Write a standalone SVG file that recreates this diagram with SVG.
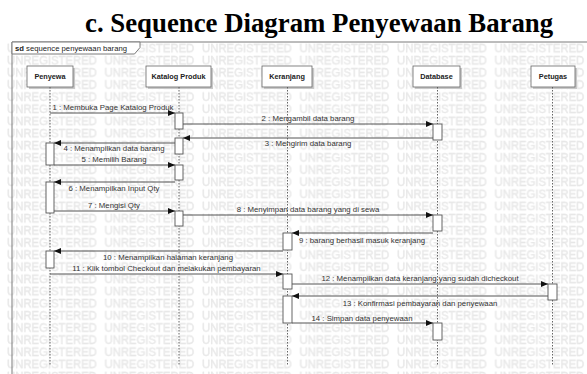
<svg xmlns="http://www.w3.org/2000/svg" width="587" height="374" viewBox="0 0 587 374">
<defs>
<style>
.title{font-family:"Liberation Serif","Times New Roman",serif;font-weight:bold;font-size:26.8px;fill:#000}
.wm{font-family:"Liberation Sans",Arial,sans-serif;font-size:11.3px;fill:#ececec;stroke:#e2e2e2;stroke-width:0.3}
.frame{fill:none;stroke:#7a7a7a;stroke-width:1}
.tab{fill:#fff;stroke:#7a7a7a;stroke-width:1}
.sd{font-family:"Liberation Sans",Arial,sans-serif;font-size:7.7px;fill:#222}
.head{fill:#fff;stroke:#666;stroke-width:0.8}
.shadow{fill:#c8c8c8}
.hname{font-family:"Liberation Sans",Arial,sans-serif;font-size:7.3px;font-weight:bold;fill:#222;text-anchor:middle}
.life{stroke:#555;stroke-width:0.9;stroke-dasharray:1.5 1.5;fill:none}
.act{fill:#fff;stroke:#555;stroke-width:0.9}
.msg{stroke:#555;stroke-width:1;fill:none;marker-end:url(#ah)}
.lbl{font-family:"Liberation Sans",Arial,sans-serif;font-size:7.8px;fill:#333;text-anchor:middle}
</style>
<marker id="ah" markerUnits="userSpaceOnUse" markerWidth="8" markerHeight="7" refX="7" refY="3" orient="auto">
<path d="M0,0 L7,3 L0,6 Z" fill="#111"/>
</marker>
<pattern id="wmp" patternUnits="userSpaceOnUse" x="7" y="42" width="97.5" height="12.15">
<text class="wm" x="0" y="10.3">UNREGISTERED</text>
</pattern>
</defs>
<rect width="587" height="374" fill="#fff"/>
<text class="title" x="85" y="32">c. Sequence Diagram Penyewaan Barang</text>
<rect x="0" y="42" width="587" height="332" fill="url(#wmp)"/>
<g id="frame">
<path class="frame" d="M12,374 V42 H587"/>
<path class="tab" d="M12,42 H140 V47.5 L134.5,54 H12 Z"/>
<text class="sd" x="15" y="51.3"><tspan font-weight="bold">sd</tspan> sequence penyewaan barang</text>
</g>
<g id="penyewa">
<rect class="shadow" x="29" y="68" width="46" height="21"/>
<rect class="head" x="27" y="66" width="46" height="21"/>
<text class="hname" x="50" y="78.5">Penyewa</text>
<line class="life" x1="50" y1="87" x2="50" y2="366"/>
<rect class="act" x="46" y="143" width="8" height="22"/>
<rect class="act" x="46" y="182" width="8" height="31"/>
<rect class="act" x="46" y="251" width="8" height="17"/>
</g>
<g id="katalog">
<rect class="shadow" x="148" y="68" width="65" height="21"/>
<rect class="head" x="146" y="66" width="65" height="21"/>
<text class="hname" x="178.5" y="78.5">Katalog Produk</text>
<line class="life" x1="179" y1="87" x2="179" y2="366"/>
<rect class="act" x="175" y="113" width="8" height="16"/>
<rect class="act" x="175" y="138" width="8" height="16"/>
<rect class="act" x="175" y="165" width="8" height="15"/>
<rect class="act" x="175" y="211" width="8" height="15"/>
</g>
<g id="keranjang">
<rect class="shadow" x="264" y="68" width="50" height="21"/>
<rect class="head" x="262" y="66" width="50" height="21"/>
<text class="hname" x="287" y="78.5">Keranjang</text>
<line class="life" x1="287.5" y1="87" x2="287.5" y2="366"/>
<rect class="act" x="283" y="233" width="9" height="17"/>
<rect class="act" x="283" y="274" width="9" height="15"/>
<rect class="act" x="283" y="296" width="9" height="27"/>
</g>
<g id="database">
<rect class="shadow" x="415" y="68" width="47" height="21"/>
<rect class="head" x="413" y="66" width="47" height="21"/>
<text class="hname" x="436.5" y="78.5">Database</text>
<line class="life" x1="437.5" y1="87" x2="437.5" y2="366"/>
<rect class="act" x="433" y="124" width="9" height="16"/>
<rect class="act" x="433" y="215" width="9" height="16"/>
<rect class="act" x="433" y="323" width="9" height="17"/>
</g>
<g id="petugas">
<rect class="shadow" x="533" y="68" width="44" height="21"/>
<rect class="head" x="531" y="66" width="44" height="21"/>
<text class="hname" x="553" y="78.5">Petugas</text>
<line class="life" x1="552.5" y1="87" x2="552.5" y2="366"/>
<rect class="act" x="548" y="284" width="9" height="16"/>
</g>
<g id="connectors">
<line class="msg" x1="50" y1="113" x2="175" y2="113"/>
<text class="lbl" x="113" y="110">1 : Membuka Page Katalog Produk</text>
<line class="msg" x1="183" y1="124" x2="433" y2="124"/>
<text class="lbl" x="308" y="121">2 : Mengambil data barang</text>
<line class="msg" x1="433" y1="138" x2="183" y2="138"/>
<text class="lbl" x="308" y="146">3 : Mengirim data barang</text>
<line class="msg" x1="175" y1="143" x2="54" y2="143"/>
<text class="lbl" x="114" y="150.5">4 : Menampilkan data barang</text>
<line class="msg" x1="54" y1="165" x2="175" y2="165"/>
<text class="lbl" x="114" y="162">5 : Memilih Barang</text>
<line class="msg" x1="175" y1="182" x2="54" y2="182"/>
<text class="lbl" x="114" y="191">6 : Menampilkan Input Qty</text>
<line class="msg" x1="54" y1="211" x2="175" y2="211"/>
<text class="lbl" x="114" y="208">7 : Mengisi Qty</text>
<line class="msg" x1="183" y1="215" x2="433" y2="215"/>
<text class="lbl" x="308" y="212">8 : Menyimpan data barang yang di sewa</text>
<line class="msg" x1="433" y1="233" x2="292" y2="233"/>
<text class="lbl" x="362" y="243">9 : barang berhasil masuk keranjang</text>
<line class="msg" x1="283" y1="251" x2="54" y2="251"/>
<text class="lbl" x="168" y="259.5">10 : Menampilkan halaman keranjang</text>
<line class="msg" x1="50" y1="274" x2="283" y2="274"/>
<text class="lbl" x="166.5" y="271">11 : Klik tombol Checkout dan melakukan pembayaran</text>
<line class="msg" x1="292" y1="284" x2="548" y2="284"/>
<text class="lbl" x="420" y="281">12 : Menampilkan data keranjang yang sudah dicheckout</text>
<line class="msg" x1="548" y1="296" x2="292" y2="296"/>
<text class="lbl" x="420" y="305.5">13 : Konfirmasi pembayaran dan penyewaan</text>
<line class="msg" x1="292" y1="323" x2="433" y2="323"/>
<text class="lbl" x="362" y="320.5">14 : Simpan data penyewaan</text>
</g>
</svg>
